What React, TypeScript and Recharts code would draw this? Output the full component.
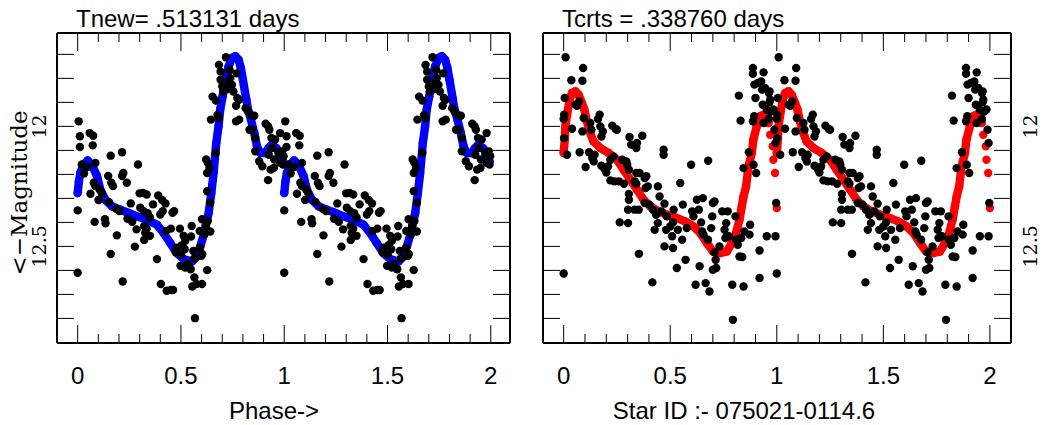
import { Scatter, ScatterChart, XAxis, YAxis } from "recharts";

const phaseTicks = [0, 0.1, 0.2, 0.3, 0.4, 0.5, 0.6, 0.7, 0.8, 0.9, 1, 1.1, 1.2, 1.3, 1.4, 1.5, 1.6, 1.7, 1.8, 1.9, 2];
const phaseLabels = [0, 0.5, 1, 1.5, 2];
const magTicks = [11.7, 11.8, 11.9, 12, 12.1, 12.2, 12.3, 12.4, 12.5, 12.6, 12.7, 12.8];
const magLabels = [12, 12.5];

// observations folded on Tnew = .513131 d (one cycle, shown again at phase + 1)
const tnewObs: [number, number][] = [
  [0.005, 11.979], [0.011, 12.041], [0.011, 12.086], [0.0, 12.35], [0.0, 12.61], [0.02, 12.159], [0.031, 12.196],
  [0.058, 12.028], [0.075, 12.039], [0.073, 12.079], [0.047, 12.169], [0.086, 12.152], [0.062, 12.281], [0.101, 12.307],
  [0.082, 12.398], [0.078, 12.235], [0.086, 12.249], [0.106, 12.263], [0.117, 12.279], [0.132, 12.387], [0.135, 12.404],
  [0.148, 12.207], [0.16, 12.122], [0.151, 12.315], [0.163, 12.235], [0.171, 12.249], [0.16, 12.532], [0.19, 12.454],
  [0.187, 12.343], [0.202, 12.353], [0.215, 12.108], [0.215, 12.207], [0.221, 12.194], [0.238, 12.235], [0.218, 12.646],
  [0.241, 12.385], [0.257, 12.321], [0.264, 12.398], [0.277, 12.501], [0.285, 12.429], [0.292, 12.159], [0.3, 12.279],
  [0.316, 12.277], [0.334, 12.284], [0.303, 12.339], [0.319, 12.353], [0.339, 12.362], [0.322, 12.415], [0.334, 12.426],
  [0.327, 12.443], [0.35, 12.38], [0.365, 12.325], [0.35, 12.456], [0.322, 12.473], [0.384, 12.553], [0.39, 12.288],
  [0.409, 12.307], [0.425, 12.321], [0.403, 12.657], [0.4, 12.367], [0.412, 12.353], [0.431, 12.685], [0.451, 12.682],
  [0.462, 12.682], [0.451, 12.426], [0.428, 12.436], [0.467, 12.353], [0.459, 12.36], [0.482, 12.505], [0.474, 12.523],
  [0.495, 12.426], [0.513, 12.456], [0.521, 12.477], [0.505, 12.495], [0.518, 12.512], [0.501, 12.535], [0.498, 12.581],
  [0.521, 12.588], [0.552, 12.415], [0.549, 12.459], [0.56, 12.519], [0.565, 12.55], [0.533, 12.574], [0.547, 12.595],
  [0.565, 12.629], [0.555, 12.667], [0.568, 12.799], [0.575, 12.657], [0.602, 12.657], [0.599, 12.539], [0.591, 12.505],
  [0.603, 12.532], [0.591, 12.436], [0.602, 12.387], [0.614, 12.45], [0.642, 12.438], [0.627, 12.599], [0.619, 12.415],
  [0.63, 12.394], [0.622, 12.138], [0.63, 12.152], [0.627, 12.194], [0.638, 12.173], [0.627, 12.27], [0.642, 12.318],
  [0.645, 11.972], [0.669, 12.111], [0.653, 11.876], [0.669, 11.892], [0.677, 11.952], [0.684, 11.965], [0.684, 11.744],
  [0.692, 11.772], [0.692, 11.806], [0.7, 11.834], [0.718, 11.712], [0.705, 11.855], [0.723, 11.845], [0.736, 11.765],
  [0.739, 11.799], [0.731, 11.82], [0.747, 11.827], [0.754, 11.855], [0.77, 11.779], [0.773, 11.882], [0.781, 11.889],
  [0.767, 11.914], [0.767, 11.979], [0.782, 11.972], [0.813, 11.924], [0.824, 11.938], [0.844, 11.956], [0.855, 11.956],
  [0.832, 12.014], [0.844, 12.014], [0.86, 12.048], [0.86, 12.104], [0.879, 12.145], [0.894, 12.166], [0.91, 11.989],
  [0.922, 12.0], [0.925, 12.118], [0.928, 12.014], [0.938, 12.048], [0.941, 12.09], [0.952, 12.138], [0.922, 12.224],
  [0.956, 12.055], [0.972, 12.111], [0.98, 12.152], [0.994, 12.159], [0.997, 12.124], [0.99, 12.104], [0.95, 12.173],
  [0.934, 12.18], [0.98, 12.028],
];

const tnewModel: [number, number][] = [
  [0, 12.278], [0.006, 12.23], [0.013, 12.194], [0.029, 12.16], [0.048, 12.142], [0.069, 12.16], [0.094, 12.208],
  [0.11, 12.264], [0.134, 12.306], [0.166, 12.333], [0.206, 12.347], [0.247, 12.361], [0.287, 12.375], [0.335, 12.389],
  [0.384, 12.41], [0.416, 12.444], [0.448, 12.486], [0.48, 12.528], [0.513, 12.553], [0.553, 12.563], [0.577, 12.542],
  [0.594, 12.5], [0.613, 12.444], [0.634, 12.361], [0.647, 12.278], [0.658, 12.194], [0.671, 12.069], [0.682, 12.0],
  [0.69, 11.93], [0.702, 11.875], [0.715, 11.806], [0.731, 11.75], [0.747, 11.715], [0.763, 11.708], [0.779, 11.722],
  [0.79, 11.757], [0.8, 11.806], [0.816, 11.886], [0.823, 11.924], [0.839, 11.972], [0.855, 12.028], [0.868, 12.083],
  [0.884, 12.111], [0.908, 12.111], [0.924, 12.09], [0.94, 12.076], [0.961, 12.09], [0.981, 12.111], [0.994, 12.146],
];

// same observations folded on Tcrts = .338760 d
const tcrtsObs: [number, number][] = [
  [0.009, 11.712], [0.005, 11.882], [0.002, 11.951], [0, 11.969], [0.002, 12.049], [0.016, 12.118], [0, 12.613],
  [0.036, 11.808], [0.039, 12.01], [0.056, 11.91], [0.063, 11.914], [0.072, 11.896], [0.091, 11.757], [0.088, 11.81],
  [0.088, 12.021], [0.094, 11.965], [0.075, 12.108], [0.103, 12.169], [0.119, 12.108], [0.125, 11.986], [0.13, 12.014],
  [0.134, 12.132], [0.141, 12.146], [0.145, 12.118], [0.161, 11.969], [0.169, 11.951], [0.172, 12.0], [0.177, 12.042],
  [0.184, 12.021], [0.177, 12.164], [0.192, 12.178], [0.2, 12.192], [0.208, 12.167], [0.219, 12.139], [0.219, 12.225],
  [0.228, 11.997], [0.244, 12.011], [0.25, 12.014], [0.234, 12.125], [0.239, 12.229], [0.259, 12.229], [0.263, 12.4],
  [0.275, 12.139], [0.283, 12.239], [0.294, 12.146], [0.298, 12.16], [0.306, 12.181], [0.309, 12.044], [0.317, 12.076],
  [0.341, 12.09], [0.344, 12.069], [0.341, 12.194], [0.356, 12.194], [0.333, 12.229], [0.306, 12.282], [0.306, 12.306],
  [0.302, 12.347], [0.333, 12.347], [0.352, 12.347], [0.302, 12.403], [0.341, 12.239], [0.353, 12.531], [0.369, 12.039],
  [0.38, 12.215], [0.388, 12.208], [0.384, 12.257], [0.395, 12.25], [0.38, 12.319], [0.403, 12.326], [0.416, 12.65],
  [0.419, 12.347], [0.434, 12.368], [0.442, 12.25], [0.45, 12.292], [0.458, 12.354], [0.427, 12.431], [0.442, 12.403],
  [0.469, 12.097], [0.469, 12.118], [0.473, 12.322], [0.484, 12.375], [0.481, 12.431], [0.5, 12.417], [0.513, 12.4],
  [0.509, 12.458], [0.516, 12.347], [0.536, 12.431], [0.556, 12.472], [0.559, 12.326], [0.473, 12.5], [0.513, 12.507],
  [0.531, 12.59], [0.547, 12.236], [0.572, 12.556], [0.578, 12.424], [0.598, 12.16], [0.603, 12.354], [0.609, 12.375],
  [0.619, 12.66], [0.625, 12.306], [0.634, 12.347], [0.638, 12.583], [0.645, 12.4], [0.653, 12.299], [0.65, 12.438],
  [0.656, 12.451], [0.666, 12.653], [0.678, 12.143], [0.677, 12.472], [0.684, 12.688], [0.692, 12.424], [0.697, 12.375],
  [0.7, 12.319], [0.708, 12.313], [0.7, 12.597], [0.708, 12.525], [0.713, 12.556], [0.716, 12.59], [0.731, 12.5],
  [0.744, 12.354], [0.755, 12.431], [0.763, 12.403], [0.759, 12.465], [0.77, 12.354], [0.775, 12.458], [0.791, 12.66],
  [0.794, 12.806], [0.806, 12.375], [0.809, 12.472], [0.817, 12.493], [0.825, 12.542], [0.838, 12.544], [0.833, 12.465],
  [0.844, 12.667], [0.848, 12.438], [0.844, 12.174], [0.83, 11.976], [0.822, 11.872], [0.869, 12.108], [0.875, 12.41],
  [0.872, 12.451], [0.888, 11.979], [0.891, 12.16], [0.888, 11.757], [0.888, 11.781], [0.895, 11.826], [0.9, 11.882],
  [0.903, 12.194], [0.911, 11.819], [0.919, 12.632], [0.919, 12.517], [0.927, 11.813], [0.938, 11.775], [0.931, 11.847],
  [0.934, 11.91], [0.938, 11.986], [0.953, 11.931], [0.963, 11.861], [0.966, 11.9], [0.963, 11.969], [0.973, 11.938],
  [0.997, 12.319], [0.994, 12.458], [0.953, 12.458], [0.989, 12.014], [0.994, 12.069], [0.966, 11.854], [0.969, 11.889],
  [0.984, 11.93], [0.945, 11.84], [0.894, 11.958],
];

const tcrtsModel: [number, number][] = [
  [0, 12.111], [0.005, 12.056], [0.008, 12.0], [0.016, 11.951], [0.028, 11.889], [0.039, 11.861], [0.055, 11.854],
  [0.07, 11.868], [0.086, 11.903], [0.097, 11.93], [0.109, 11.979], [0.122, 12.021], [0.14, 12.063], [0.172, 12.09],
  [0.211, 12.111], [0.25, 12.139], [0.281, 12.181], [0.313, 12.222], [0.344, 12.264], [0.375, 12.306], [0.406, 12.333],
  [0.445, 12.354], [0.484, 12.368], [0.531, 12.382], [0.57, 12.396], [0.609, 12.417], [0.641, 12.444], [0.672, 12.486],
  [0.7, 12.521], [0.734, 12.528], [0.766, 12.521], [0.789, 12.486], [0.809, 12.444], [0.825, 12.389], [0.836, 12.333],
  [0.844, 12.292], [0.856, 12.25], [0.867, 12.167], [0.883, 12.111], [0.89, 12.056], [0.906, 12.0], [0.922, 11.958],
  [0.938, 11.951], [0.953, 11.958], [0.961, 11.986],
];
// sparse model points on the steep drop just before phase 1
const tcrtsModelTail: [number, number][] = [[0.969, 12.035], [0.981, 12.083], [0.984, 12.139], [0.992, 12.194], [1.0, 12.34]];

const SANS = "'Liberation Sans', Arial, Helvetica, sans-serif";
const SERIF = "'DejaVu Serif', serif";

const toPts = (rows: [number, number][], shift = 0) => rows.map(([p, m]) => ({ phase: p + shift, mag: m }));
const twice = (rows: [number, number][]) => [...toPts(rows), ...toPts(rows, 1)];
const isMajor = (v: number) => phaseLabels.some((l) => Math.abs(l - v) < 1e-6);

const dot = (color: string) => (p: any) => <circle cx={p.cx} cy={p.cy} r={4.2} fill={color} />;

const bottomTick = (p: any) => {
  const major = isMajor(p.payload.value);
  return (
    <g>
      <line x1={p.x} x2={p.x} y1={p.y} y2={p.y - (major ? 18 : 9)} stroke="#000" strokeWidth={1} />
      {major && (
        <text x={p.x} y={p.y + 41} textAnchor="middle" fontSize={24} fontFamily={SANS} fill="#000">
          {String(p.payload.value)}
        </text>
      )}
    </g>
  );
};

const topTick = (p: any) => {
  const major = isMajor(p.payload.value);
  return <line x1={p.x} x2={p.x} y1={p.y} y2={p.y + (major ? 18 : 9)} stroke="#000" strokeWidth={1} />;
};

const magLabel = (v: number, x: number, y: number) =>
  magLabels.includes(v) ? (
    <text x={x} y={y} transform={`rotate(-90 ${x} ${y})`} textAnchor="middle" fontSize={19} fontFamily={SERIF} fill="#000">
      {String(v)}
    </text>
  ) : null;

const leftTick = (labels: boolean) => (p: any) => (
  <g>
    <line x1={p.x} x2={p.x + 17} y1={p.y} y2={p.y} stroke="#000" strokeWidth={1} />
    {labels && magLabel(p.payload.value, p.x - 11, p.y)}
  </g>
);

const rightTick = (labels: boolean) => (p: any) => (
  <g>
    <line x1={p.x} x2={p.x - 17} y1={p.y} y2={p.y} stroke="#000" strokeWidth={1} />
    {labels && magLabel(p.payload.value, p.x + 26, p.y)}
  </g>
);

type PanelProps = {
  left: number;
  obs: [number, number][];
  model: [number, number][];
  tail?: [number, number][];
  color: string;
  xDomain: [number, number];
  margin: { top: number; right: number; bottom: number; left: number };
  labelsRight?: boolean;
};

const frame = { stroke: "#000", strokeWidth: 2 };
const magDomain: [number, number] = [11.611, 12.9025];

function Panel({ left, obs, model, tail, color, xDomain, margin, labelsRight }: PanelProps) {
  return (
    <div style={{ position: "absolute", left, top: 0 }}>
      <ScatterChart width={523} height={425} margin={margin}>
        <XAxis xAxisId="b" type="number" dataKey="phase" domain={xDomain} allowDataOverflow ticks={phaseTicks}
          interval={0} height={1} tickSize={0} tickMargin={0} tickLine={false} axisLine={frame} tick={bottomTick} />
        <XAxis xAxisId="t" orientation="top" type="number" dataKey="phase" domain={xDomain} allowDataOverflow
          ticks={phaseTicks} interval={0} height={1} tickSize={0} tickMargin={0} tickLine={false} axisLine={frame} tick={topTick} />
        <YAxis yAxisId="l" type="number" dataKey="mag" domain={magDomain} reversed allowDataOverflow ticks={magTicks}
          interval={0} width={1} tickSize={0} tickMargin={0} tickLine={false} axisLine={frame} tick={leftTick(!labelsRight)} />
        <YAxis yAxisId="r" orientation="right" type="number" dataKey="mag" domain={magDomain} reversed allowDataOverflow
          ticks={magTicks} interval={0} width={1} tickSize={0} tickMargin={0} tickLine={false} axisLine={frame}
          tick={rightTick(!!labelsRight)} />
        {[0, 1].map((k) => (
          <Scatter key={k} xAxisId="t" yAxisId="r" data={toPts(model, k)} fill={color} shape={dot(color)}
            line={{ stroke: color, strokeWidth: 8.4, strokeLinecap: "round", strokeLinejoin: "round" }} lineType="joint"
            isAnimationActive={false} />
        ))}
        {tail && (
          <Scatter xAxisId="t" yAxisId="r" data={twice(tail)} fill={color} shape={dot(color)} isAnimationActive={false} />
        )}
        <Scatter xAxisId="b" yAxisId="l" data={twice(obs)} fill="#000" shape={dot("#000")} isAnimationActive={false} />
      </ScatterChart>
    </div>
  );
}

export default function App() {
  return (
    <div style={{ position: "absolute", left: 0, top: 0, width: 1046, height: 425, background: "#fff", overflow: "hidden" }}>
      <Panel left={0} obs={tnewObs} model={tnewModel} color="#0000ff" xDomain={[-0.1, 2.093]}
        margin={{ top: 32, right: 12, bottom: 81, left: 56 }} />
      <Panel left={523} obs={tcrtsObs} model={tcrtsModel} tail={tcrtsModelTail} color="#ff0000" xDomain={[-0.097, 2.099]}
        margin={{ top: 32, right: 34, bottom: 81, left: 19 }} labelsRight />
      <svg width={1046} height={425} style={{ position: "absolute", left: 0, top: 0, pointerEvents: "none" }}>
        <text x={76} y={27} fontSize={24} fontFamily={SANS} fill="#000">Tnew= .513131 days</text>
        <text x={562} y={27} fontSize={24} fontFamily={SANS} fill="#000">Tcrts = .338760 days</text>
        <text x={274} y={419} textAnchor="middle" fontSize={24} fontFamily={SANS} fill="#000">Phase-&gt;</text>
        <text x={744} y={419} textAnchor="middle" fontSize={24} fontFamily={SANS} fill="#000">Star ID :- 075021-0114.6</text>
        <text x={27} y={193} transform="rotate(-90 27 193)" textAnchor="middle" fontSize={23} fontFamily={SERIF} fill="#000">
          {"<\u2212Magnitude"}
        </text>
      </svg>
    </div>
  );
}
